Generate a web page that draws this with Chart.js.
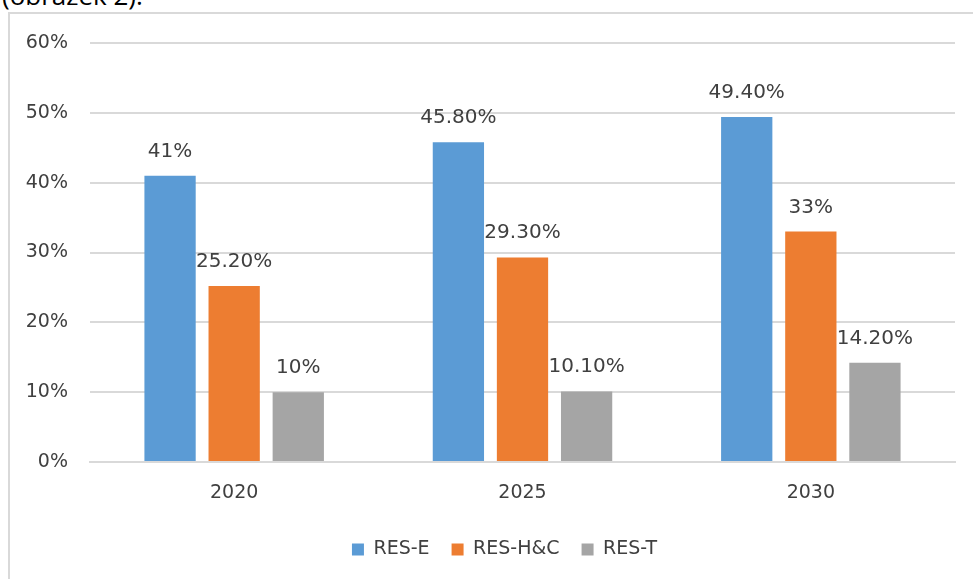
<!DOCTYPE html>
<html>
<head>
<meta charset="utf-8">
<script src="https://cdn.jsdelivr.net/npm/chart.js@4/dist/chart.umd.min.js"></script>
<style>
    html, body { margin: 0; padding: 0; background: #fff; overflow: hidden; }
    body { width: 973px; height: 579px; position: relative; }
    #caption {
        position: absolute; left: 2px; top: -23px;
        font: 26px "Open Sans", Arial, sans-serif; color: #000;
    }
    #frame {
        position: absolute; left: 8px; top: 12px; width: 980px; height: 600px;
        border: 2px solid #d9d9d9; box-sizing: border-box;
    }
    #chart-wrap { position: absolute; left: 0; top: 0; width: 973px; height: 579px; }
</style>
</head>
<body>
<div id="caption">(obrázek 2).</div>
<div id="frame"></div>
<div id="chart-wrap"><canvas id="res-chart"></canvas></div>
<script>
    // Share of renewables by sector
    const years = ['2020', '2025', '2030'];
    const resE = [41, 45.8, 49.4];
    const resHC = [25.2, 29.3, 33];
    const resT = [10, 10.1, 14.2];
    const yTicks = [0, 10, 20, 30, 40, 50, 60];

    const fontFamily = '"DejaVu Sans", sans-serif';
    const textColor = '#404040';
    const fontSize = 19;

    const formatPct = (v) => (Number.isInteger(v) ? v : v.toFixed(2)) + '%';

    // Draw value labels above each bar
    const valueLabels = {
        id: 'valueLabels',
        afterDatasetsDraw(chart) {
            const ctx = chart.ctx;
            ctx.save();
            ctx.font = '20px ' + fontFamily;
            ctx.fillStyle = textColor;
            ctx.textAlign = 'center';
            ctx.textBaseline = 'alphabetic';
            chart.data.datasets.forEach((ds, i) => {
                chart.getDatasetMeta(i).data.forEach((bar, j) => {
                    ctx.fillText(formatPct(ds.data[j]), bar.x, bar.y - 19);
                });
            });
            ctx.restore();
        }
    };

    // Centre the legend a little to the right, under the frame
    const legendShift = {
        id: 'legendShift',
        afterLayout(chart) {
            const lg = chart.legend;
            lg.left += 54;
            lg.width -= 54;
        }
    };

    new Chart(document.getElementById('res-chart'), {
        type: 'bar',
        data: {
            labels: years,
            datasets: [
                { label: 'RES-E', data: resE, backgroundColor: '#5b9bd5' },
                { label: 'RES-H&C', data: resHC, backgroundColor: '#ed7d31' },
                { label: 'RES-T', data: resT, backgroundColor: '#a5a5a5' },
            ],
        },
        options: {
            responsive: true,
            maintainAspectRatio: false,
            animation: false,
            categoryPercentage: 0.667,
            barPercentage: 0.8,
            layout: { padding: { top: 43, right: 18, bottom: 10, left: 0 } },
            plugins: {
                tooltip: { enabled: false },
                legend: {
                    position: 'bottom',
                    labels: {
                        boxWidth: 12,
                        boxHeight: 12,
                        padding: 22,
                        color: textColor,
                        font: { family: fontFamily, size: fontSize },
                    },
                },
            },
            scales: {
                x: {
                    grid: { display: false, drawTicks: false },
                    border: { display: true, color: '#d9d9d9', width: 2 },
                    ticks: { color: textColor, padding: 20, font: { family: fontFamily, size: fontSize } },
                    afterFit: (scale) => { scale.height = 56; },
                },
                y: {
                    min: 0,
                    max: 60,
                    afterBuildTicks: (scale) => { scale.ticks = yTicks.map((v) => ({ value: v })); },
                    grid: { color: '#d9d9d9', lineWidth: 2, drawTicks: false },
                    border: { display: false },
                    ticks: {
                        color: textColor,
                        padding: 22,
                        font: { family: fontFamily, size: fontSize },
                        callback: (v) => v + '%',
                    },
                    afterFit: (scale) => { scale.width = 90; },
                },
            },
        },
        plugins: [valueLabels, legendShift],
    });
</script>
</body>
</html>
